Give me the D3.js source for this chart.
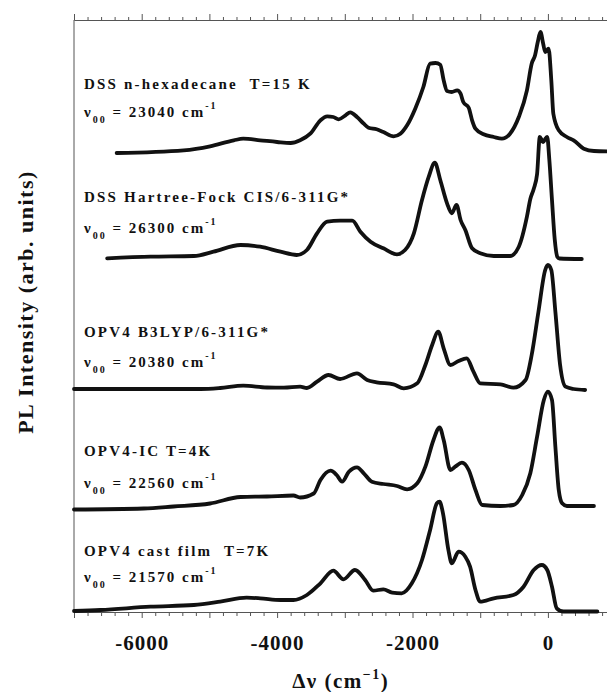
<!DOCTYPE html>
<html>
<head>
<meta charset="utf-8">
<script src="https://cdn.jsdelivr.net/npm/d3@7"></script>
<style>
  html, body { margin: 0; padding: 0; background: #fff; }
  svg { display: block; }
  text { font-family: "Liberation Serif", "Times New Roman", serif; font-weight: bold; fill: #111; }
</style>
</head>
<body>
<div id="chart"></div>
<script>
// [Δν (cm-1), PL intensity (arb. units above the trace baseline)]
const dssHexadecane = [[-6370,0],[-5380,2.7],[-4990,6.7],[-4640,12.7],[-4500,14.3],[-4250,12.7],[-4000,11],[-3800,10],[-3660,12.7],[-3510,19.3],[-3360,32.7],[-3260,36.7],[-3170,36],[-3090,33.7],[-2990,37.7],[-2920,40.7],[-2820,36],[-2720,29.3],[-2650,25.3],[-2530,23.7],[-2430,21],[-2280,16.7],[-2180,19.3],[-2080,27.7],[-1960,44.3],[-1840,66],[-1740,89.3],[-1660,90],[-1590,88.3],[-1540,72.7],[-1490,62],[-1420,61],[-1340,62.7],[-1290,59.3],[-1250,51],[-1170,45.3],[-1120,32.7],[-1070,24.3],[-950,18.7],[-800,16],[-680,14.3],[-560,19.3],[-430,36],[-310,62.7],[-240,89.3],[-190,97.7],[-150,111],[-110,121],[-70,109.3],[-40,101],[10,104.3],[50,72.7],[80,39.3],[160,22.7],[280,16],[380,12.7],[530,4.3],[680,2],[870,1.7]];
const dssHartreeFock = [[-6510,0.7],[-5870,2.3],[-5230,3],[-4940,7.3],[-4540,14],[-4250,12.3],[-3950,7.3],[-3710,4],[-3560,9],[-3410,25.7],[-3260,37.3],[-3070,38.3],[-2890,38.3],[-2770,27.3],[-2620,17.3],[-2430,10.7],[-2230,4.7],[-2110,9],[-1980,25.7],[-1860,59],[-1760,82.3],[-1670,96.3],[-1590,79],[-1490,55.7],[-1420,45.7],[-1350,54],[-1290,39],[-1220,29],[-1120,10.7],[-1000,5.7],[-800,3],[-560,3],[-430,12.3],[-310,42.3],[-260,60],[-210,70],[-160,85],[-120,122],[-90,119],[-70,117],[-40,120],[-10,122],[20,100],[60,59],[100,20],[140,2],[170,0.5],[500,0]];
const opv4B3lyp = [[-7000,0],[-6000,0],[-5130,0],[-4840,1],[-4500,3.3],[-4150,1.5],[-3900,1.3],[-3660,2.3],[-3560,1],[-3410,7.3],[-3240,14],[-3070,10],[-2820,15.7],[-2670,9],[-2530,6.7],[-2280,4.7],[-2130,0.7],[-1930,5.7],[-1810,24],[-1710,44],[-1620,57.3],[-1540,40.7],[-1440,24],[-1320,28],[-1200,30.7],[-1100,17.3],[-1000,5.7],[-700,4.7],[-510,1.3],[-330,9],[-240,34],[-140,77.3],[-40,119],[0,124],[50,119],[110,77.3],[180,24],[260,2.3],[380,0],[550,-1]];
const opv4Ic = [[-7000,0],[-5970,1],[-5530,3],[-4990,6],[-4540,12.5],[-4150,13],[-3760,14],[-3660,12],[-3460,16],[-3360,29.5],[-3210,38.8],[-3120,34.5],[-3040,27.8],[-2940,37.8],[-2820,42.2],[-2720,36.2],[-2600,27.8],[-2430,25.5],[-2230,23.5],[-2080,20.2],[-1930,26.2],[-1810,42.8],[-1690,69.5],[-1600,82.2],[-1540,69.5],[-1440,39.5],[-1370,42.8],[-1270,46.8],[-1170,39.5],[-1070,19.5],[-970,4.5],[-700,3.5],[-510,4.5],[-380,14.5],[-260,36.2],[-160,72.8],[-60,109.5],[0,117.8],[60,109.5],[110,62.8],[160,19.5],[210,6.2],[280,3.5],[680,3.5]];
const opv4CastFilm = [[-7000,0.5],[-6610,1.5],[-5870,4.8],[-5230,6.5],[-4840,9.8],[-4450,13.8],[-4250,13.2],[-3950,11.5],[-3760,11.5],[-3560,16.5],[-3360,28.2],[-3170,40.8],[-3020,32.2],[-2850,41.5],[-2700,31.5],[-2580,20.8],[-2430,22.2],[-2300,18.8],[-2160,18.2],[-2010,28.2],[-1860,51.5],[-1740,81.5],[-1640,108.2],[-1600,109.8],[-1550,98.2],[-1470,61.5],[-1420,48.2],[-1320,59.8],[-1220,54.8],[-1150,44.8],[-1070,21.5],[-1000,9.8],[-800,13.2],[-510,16.5],[-360,24.8],[-210,41.5],[-90,46.5],[-10,41.5],[60,24.8],[130,3.2],[230,0],[730,0]];

const spectra = [dssHexadecane, dssHartreeFock, opv4B3lyp, opv4Ic, opv4CastFilm];
const baselines = [459, 353, 223, 102.5, 0.5];
const spectrumNames = ['DSS n-hexadecane  T=15 K', 'DSS Hartree-Fock CIS/6-311G*', 'OPV4 B3LYP/6-311G*', 'OPV4-IC T=4K', 'OPV4 cast film  T=7K'];
const nu00Values = ['23040', '26300', '20380', '22560', '21570'];
const xLabelTicks = [-6000, -4000, -2000, 0];

const W = 607;
const H = 692;
const margin = { top: 20, right: 0, bottom: 80, left: 74 };
const plotBottom = H - margin.bottom;

const x = d3.scaleLinear().domain([-7000, 880]).range([margin.left, 607.5]);
const y = d3.scaleLinear().domain([0, 592]).range([plotBottom, margin.top]);

const svg = d3.select('#chart').append('svg').attr('width', W).attr('height', H);

// name + nu00 text baselines, px
const nameY = [89, 202, 337, 456, 556];
const nuY = [117, 233, 367, 488, 582];
const labelX = 84;

const majors = d3.range(-7000, 881, 1000);
const minors = d3.range(-7000, 881, 200).filter((v) => v % 1000 !== 0);

function styleAxis(g) {
  g.select('.domain').attr('stroke', '#555').attr('stroke-width', 1);
  g.selectAll('.tick line').attr('stroke', '#555').attr('stroke-width', 1);
}

// bottom axis
svg.append('g')
  .attr('transform', `translate(0,${plotBottom})`)
  .call(d3.axisBottom(x).tickValues(minors).tickSize(4).tickSizeOuter(0).tickFormat(''))
  .call(styleAxis);
const bottomMajor = svg.append('g')
  .attr('transform', `translate(0,${plotBottom})`)
  .call(d3.axisBottom(x).tickValues(majors).tickSize(6).tickSizeOuter(0).tickPadding(17)
    .tickFormat((d) => (xLabelTicks.includes(d) ? String(d) : '')))
  .call(styleAxis);
bottomMajor.selectAll('.tick text')
  .attr('font-family', '"Liberation Serif", serif')
  .attr('font-weight', 'bold')
  .attr('font-size', 21)
  .attr('letter-spacing', 1)
  .attr('fill', '#111');

// top axis
svg.append('g')
  .attr('transform', `translate(0,${margin.top})`)
  .call(d3.axisTop(x).tickValues(minors).tickSize(3).tickSizeOuter(0).tickFormat(''))
  .call(styleAxis);
svg.append('g')
  .attr('transform', `translate(0,${margin.top})`)
  .call(d3.axisTop(x).tickValues(majors).tickSize(6).tickSizeOuter(0).tickFormat(''))
  .call(styleAxis);

// left spine
svg.append('line')
  .attr('x1', x(-7000)).attr('x2', x(-7000))
  .attr('y1', margin.top).attr('y2', plotBottom)
  .attr('stroke', '#555').attr('stroke-width', 1);

const line = d3.line().curve(d3.curveMonotoneX);

spectra.forEach((s, i) => {
  svg.append('path')
    .attr('d', line.x((d) => x(d[0])).y((d) => y(baselines[i] + d[1]))(s))
    .attr('fill', 'none')
    .attr('stroke', '#111')
    .attr('stroke-width', 3.8)
    .attr('stroke-linejoin', 'round')
    .attr('stroke-linecap', 'round');

  svg.append('text')
    .attr('x', labelX)
    .attr('y', nameY[i])
    .attr('font-size', 15)
    .attr('letter-spacing', 2.2)
    .style('white-space', 'pre')
    .text(spectrumNames[i]);

  const t = svg.append('text')
    .attr('x', labelX)
    .attr('y', nuY[i])
    .attr('font-size', 15)
    .attr('letter-spacing', 2)
    .style('white-space', 'pre');
  t.append('tspan').text('ν');
  t.append('tspan').attr('font-size', 10).attr('dy', 6).text('00');
  t.append('tspan').attr('dy', -6).text(` = ${nu00Values[i]} cm`);
  t.append('tspan').attr('font-size', 10).attr('dy', -8).text('-1');
});

// axis titles
svg.append('text')
  .attr('x', (x.range()[0] + x.range()[1]) / 2)
  .attr('y', 688)
  .attr('text-anchor', 'middle')
  .attr('font-size', 21)
  .attr('letter-spacing', 1.5)
  .call((t) => {
    t.append('tspan').text('Δν (cm');
    t.append('tspan').attr('font-size', 14).attr('dy', -9).text('−1');
    t.append('tspan').attr('dy', 9).text(')');
  });

svg.append('text')
  .attr('transform', 'translate(25,302) rotate(-90)')
  .attr('text-anchor', 'middle')
  .attr('dominant-baseline', 'central')
  .attr('font-size', 22)
  .attr('letter-spacing', 1.5)
  .text('PL Intensity (arb. units)');
</script>
</body>
</html>
